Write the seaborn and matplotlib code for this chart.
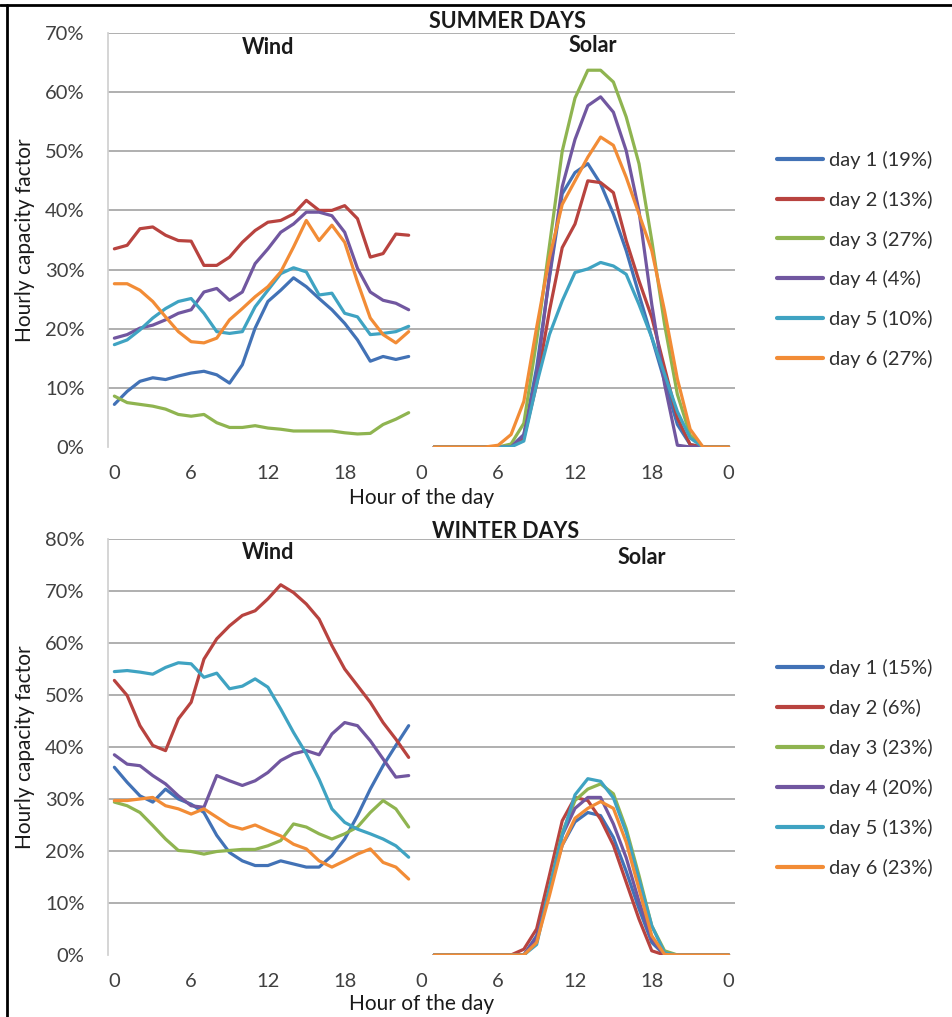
import pandas as pd
import seaborn as sns
import matplotlib.pyplot as plt
from matplotlib.lines import Line2D

# hours of each series; solar is drawn right after the wind day on the same axis
hours_wind = list(range(24))
hours_solar = list(range(1, 25))

colors = ['#4272B6', '#B8433F', '#8FB450', '#7157A0', '#3FA3C2', '#F28C36']

summer_labels = ['day 1 (19%)', 'day 2 (13%)', 'day 3 (27%)',
                 'day 4 (4%)', 'day 5 (10%)', 'day 6 (27%)']
winter_labels = ['day 1 (15%)', 'day 2 (6%)', 'day 3 (23%)',
                 'day 4 (20%)', 'day 5 (13%)', 'day 6 (23%)']

# summer wind capacity factor (%)
summer_wind_d1 = [7.2, 9.4, 11.1, 11.7, 11.4, 12.0, 12.5, 12.8, 12.2, 10.8, 13.9, 20.1,
                  24.6, 26.5, 28.6, 27.1, 25.1, 23.2, 20.9, 18.1, 14.5, 15.3, 14.8, 15.3]
summer_wind_d2 = [33.5, 34.1, 36.9, 37.2, 35.8, 34.9, 34.8, 30.7, 30.7, 32.1, 34.6, 36.6,
                  38.0, 38.3, 39.4, 41.7, 40.0, 40.0, 40.8, 38.6, 32.1, 32.7, 36.0, 35.8]
summer_wind_d3 = [8.6, 7.5, 7.2, 6.9, 6.4, 5.5, 5.2, 5.5, 4.1, 3.3, 3.3, 3.6,
                  3.2, 3.0, 2.7, 2.7, 2.7, 2.7, 2.4, 2.2, 2.3, 3.8, 4.7, 5.8]
summer_wind_d4 = [18.4, 19.0, 20.1, 20.6, 21.5, 22.6, 23.2, 26.2, 26.8, 24.8, 26.2, 31.0,
                  33.5, 36.3, 37.7, 39.7, 39.7, 39.1, 36.3, 30.2, 26.2, 24.8, 24.3, 23.2]
summer_wind_d5 = [17.3, 18.1, 19.8, 21.8, 23.4, 24.6, 25.1, 22.6, 19.5, 19.2, 19.5, 23.7,
                  26.5, 29.3, 30.3, 29.6, 25.7, 26.0, 22.6, 22.0, 19.0, 19.2, 19.5, 20.4]
summer_wind_d6 = [27.6, 27.6, 26.5, 24.6, 22.0, 19.5, 17.8, 17.6, 18.4, 21.5, 23.4, 25.4,
                  27.1, 29.6, 33.8, 38.3, 34.9, 37.5, 34.6, 27.9, 21.8, 19.0, 17.6, 19.5]

# summer solar capacity factor (%)
summer_solar_d1 = [0, 0, 0, 0, 0, 0, 0, 2.1, 13.4, 28.6, 42.8, 46.4,
                   47.9, 44.5, 39.4, 33.2, 25.8, 18.5, 11.1, 3.8, 0.4, 0, 0, 0]
summer_solar_d2 = [0, 0, 0, 0, 0, 0, 0, 1.5, 10.6, 23.0, 33.7, 37.7,
                   45.0, 44.7, 43.0, 34.9, 28.1, 21.9, 13.4, 4.9, 0.4, 0, 0, 0]
summer_solar_d3 = [0, 0, 0, 0, 0, 0, 0.5, 4.0, 18.0, 34.0, 50.0, 59.0,
                   63.7, 63.7, 61.7, 55.8, 47.9, 34.9, 20.7, 8.9, 2.0, 0, 0, 0]
summer_solar_d4 = [0, 0, 0, 0, 0, 0, 0, 2.0, 12.0, 29.0, 44.0, 52.0,
                   57.7, 59.2, 56.6, 50.1, 39.9, 24.1, 10.6, 0.3, 0, 0, 0, 0]
summer_solar_d5 = [0, 0, 0, 0, 0, 0, 0, 1.0, 10.6, 19.0, 24.7, 29.5,
                   30.1, 31.2, 30.6, 29.2, 24.1, 18.5, 12.3, 6.0, 1.5, 0, 0, 0]
summer_solar_d6 = [0, 0, 0, 0, 0, 0.3, 2.1, 7.7, 20.2, 32.0, 41.0, 45.0,
                   49.0, 52.4, 51.0, 45.6, 39.4, 33.2, 23.0, 11.5, 3.0, 0, 0, 0]

# winter wind capacity factor (%)
winter_wind_d1 = [36.1, 33.2, 30.6, 29.4, 31.9, 30.0, 29.0, 27.4, 23.0, 19.7, 18.1, 17.2,
                  17.2, 18.1, 17.5, 16.9, 16.9, 19.1, 22.3, 26.8, 31.9, 36.4, 40.3, 44.1]
winter_wind_d2 = [52.8, 49.9, 44.1, 40.3, 39.3, 45.4, 48.6, 56.9, 60.8, 63.3, 65.3, 66.2,
                  68.5, 71.2, 69.7, 67.5, 64.6, 59.5, 55.0, 51.8, 48.6, 44.7, 41.5, 38.0]
winter_wind_d3 = [29.4, 28.7, 27.4, 24.9, 22.3, 20.1, 19.9, 19.4, 19.9, 20.1, 20.3, 20.3,
                  21.0, 22.0, 25.2, 24.6, 23.3, 22.3, 23.3, 24.6, 27.4, 29.7, 28.1, 24.6]
winter_wind_d4 = [38.5, 36.7, 36.4, 34.5, 32.9, 30.6, 28.7, 28.4, 34.5, 33.5, 32.6, 33.5,
                  35.1, 37.4, 38.7, 39.3, 38.5, 42.5, 44.7, 44.1, 41.2, 37.7, 34.2, 34.5]
winter_wind_d5 = [54.5, 54.7, 54.4, 54.0, 55.3, 56.2, 56.0, 53.4, 54.2, 51.2, 51.7, 53.1,
                  51.5, 47.3, 42.8, 38.7, 33.8, 28.1, 25.5, 24.2, 23.3, 22.3, 21.0, 18.8]
winter_wind_d6 = [29.7, 29.7, 30.0, 30.3, 28.7, 28.1, 27.1, 28.1, 26.5, 24.9, 24.2, 25.0,
                  23.9, 22.9, 21.3, 20.4, 18.1, 16.9, 18.1, 19.4, 20.4, 17.8, 16.9, 14.6]

# winter solar capacity factor (%)
winter_solar_d1 = [0, 0, 0, 0, 0, 0, 0, 0, 3.7, 12.7, 21.1, 25.6,
                   27.4, 26.8, 22.6, 16.1, 8.9, 2.4, 0, 0, 0, 0, 0, 0]
winter_solar_d2 = [0, 0, 0, 0, 0, 0, 0, 1.1, 5.0, 15.3, 25.8, 30.3,
                   29.7, 26.1, 21.1, 14.0, 6.9, 0.8, 0, 0, 0, 0, 0, 0]
winter_solar_d3 = [0, 0, 0, 0, 0, 0, 0, 0, 2.5, 12.9, 23.5, 29.7,
                   31.9, 32.9, 31.0, 24.3, 15.3, 5.6, 0.8, 0, 0, 0, 0, 0]
winter_solar_d4 = [0, 0, 0, 0, 0, 0, 0, 0, 3.3, 12.5, 23.0, 28.2,
                   30.3, 30.3, 25.2, 18.7, 10.3, 3.1, 0, 0, 0, 0, 0, 0]
winter_solar_d5 = [0, 0, 0, 0, 0, 0, 0, 0, 2.0, 12.7, 23.0, 30.8,
                   33.9, 33.4, 30.2, 23.6, 14.6, 5.6, 0.4, 0, 0, 0, 0, 0]
winter_solar_d6 = [0, 0, 0, 0, 0, 0, 0, 0, 2.4, 11.4, 21.1, 26.3,
                   28.2, 29.5, 28.2, 21.7, 12.7, 3.7, 0.1, 0, 0, 0, 0, 0]

tick_pos = [0, 6, 12, 18, 24, 30, 36, 42, 48]
tick_text = ['0', '6', '12', '18', '0', '6', '12', '18', '0']


def build_frame(labels, wind, solar):
    rows = []
    for lab, w, s in zip(labels, wind, solar):
        for h, v in zip(hours_wind, w):
            rows.append({'day': lab, 'part': 'wind', 'x': h, 'cf': v})
        for h, v in zip(hours_solar, s):
            rows.append({'day': lab, 'part': 'solar', 'x': 24 + h, 'cf': v})
    return pd.DataFrame(rows)


def draw_panel(ax, df, labels, ymax, legend_y):
    sns.lineplot(data=df, x='x', y='cf', hue='day', hue_order=labels,
                 units='part', estimator=None, palette=colors,
                 linewidth=2.3, ax=ax, sort=False)
    ax.set_xlim(-0.5, 48.5)
    ax.set_ylim(0, ymax)
    yt = list(range(0, ymax + 1, 10))
    ax.set_yticks(yt)
    ax.set_yticklabels([f'{v}%' for v in yt])
    ax.set_xticks(tick_pos)
    ax.set_xticklabels(tick_text)
    ax.set_xticks([p - 0.5 for p in tick_pos], minor=True)
    ax.tick_params(axis='x', which='major', length=0, pad=13,
                   labelsize=14.5, labelcolor='#404040')
    ax.tick_params(axis='x', which='minor', length=5, width=1,
                   color='#c8c8c8', direction='out')
    ax.tick_params(axis='y', length=0, pad=17, labelsize=14.5,
                   labelcolor='#404040')
    for v in yt[1:]:
        ax.axhline(v, color='#9a9a9a', lw=1.1, zorder=0)
    for side in ['top', 'right', 'bottom']:
        ax.spines[side].set_visible(False)
    ax.spines['left'].set_color('#d0d0d0')
    ax.set_xlabel('Hour of the day', fontsize=15, color='#1a1a1a')
    ax.set_ylabel('Hourly capacity factor', fontsize=15, color='#1a1a1a')
    ax.yaxis.set_label_coords(-0.116, 0.5)
    ax.grid(False)
    leg = ax.legend(loc='center left', bbox_to_anchor=(1.067, legend_y),
                    frameon=False, fontsize=14.5, handlelength=2.3,
                    handletextpad=0.3, labelspacing=1.08, borderpad=0,
                    borderaxespad=0)
    for line in leg.get_lines():
        line.set_linewidth(3)
    for t in leg.get_texts():
        t.set_color('#303030')


sns.set_theme(style='white')
plt.rcParams['font.family'] = ['Lato', 'DejaVu Sans']

fig = plt.figure(figsize=(9.53, 10.17), dpi=100)
ax_top = fig.add_axes([0.1133, 0.5605, 0.6579, 0.4071])
ax_bot = fig.add_axes([0.1133, 0.0610, 0.6579, 0.4090])

summer = build_frame(summer_labels,
                     [summer_wind_d1, summer_wind_d2, summer_wind_d3,
                      summer_wind_d4, summer_wind_d5, summer_wind_d6],
                     [summer_solar_d1, summer_solar_d2, summer_solar_d3,
                      summer_solar_d4, summer_solar_d5, summer_solar_d6])
winter = build_frame(winter_labels,
                     [winter_wind_d1, winter_wind_d2, winter_wind_d3,
                      winter_wind_d4, winter_wind_d5, winter_wind_d6],
                     [winter_solar_d1, winter_solar_d2, winter_solar_d3,
                      winter_solar_d4, winter_solar_d5, winter_solar_d6])

draw_panel(ax_top, summer, summer_labels, 70, 0.453)
draw_panel(ax_bot, winter, winter_labels, 80, 0.4495)
ax_top.xaxis.set_label_coords(0.5, -0.1)
ax_bot.xaxis.set_label_coords(0.5, -0.093)

# panel titles
title_kw = dict(ha='center', va='center', fontsize=15.5,
                fontweight='bold', color='#1a1a1a')
ax_top.text(30.7, 71.9, 'SUMMER DAYS', **title_kw)
ax_top.text(12.0, 67.5, 'Wind', **title_kw)
ax_top.text(37.4, 67.9, 'Solar', **title_kw)
ax_bot.text(30.6, 81.5, 'WINTER DAYS', **title_kw)
ax_bot.text(12.0, 77.5, 'Wind', **title_kw)
ax_bot.text(41.2, 76.5, 'Solar', **title_kw)

# screenshot frame on the top and left edges
fig.add_artist(Line2D([0, 1], [0.9955, 0.9955], color='black', lw=2))
fig.add_artist(Line2D([0.0075, 0.0075], [0, 0.9955], color='black', lw=2))

fig.savefig('out.png', dpi=100)
